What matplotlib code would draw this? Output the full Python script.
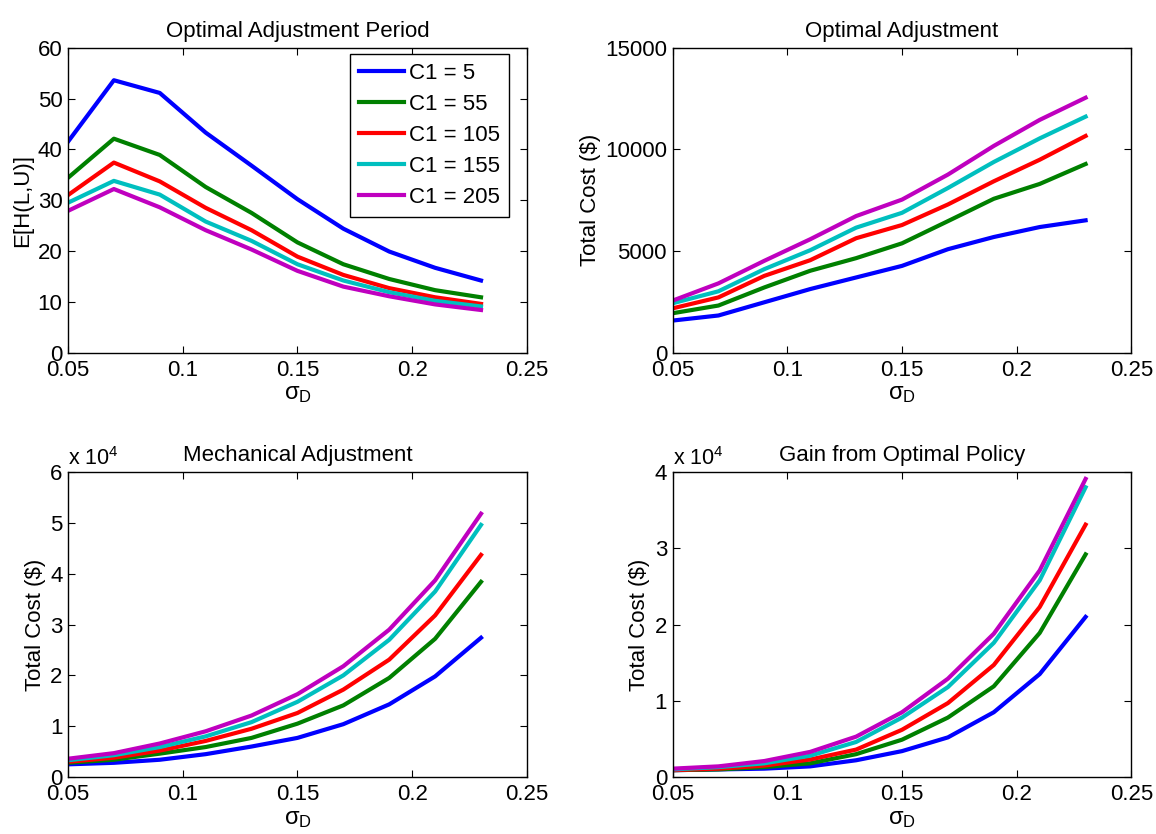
import numpy as np
import matplotlib.pyplot as plt

plt.rcParams['font.family'] = ['Liberation Sans', 'DejaVu Sans']
plt.rcParams['mathtext.fontset'] = 'custom'
plt.rcParams['mathtext.rm'] = 'Liberation Sans'
plt.rcParams['mathtext.it'] = 'Liberation Sans'

sigma_d = [0.05, 0.07, 0.09, 0.11, 0.13, 0.15, 0.17, 0.19, 0.21, 0.23]
c1_labels = ['C1 = 5', 'C1 = 55', 'C1 = 105', 'C1 = 155', 'C1 = 205']
colors = ['#0000ff', '#008000', '#ff0000', '#00bfbf', '#bf00bf']

# E[H(L,U)] - optimal adjustment period
period_c5 = [41.5, 53.6, 51.1, 43.3, 36.8, 30.2, 24.4, 19.9, 16.7, 14.2]
period_c55 = [34.4, 42.1, 38.9, 32.6, 27.5, 21.7, 17.4, 14.5, 12.3, 10.9]
period_c105 = [31.0, 37.4, 33.7, 28.5, 24.1, 18.9, 15.3, 12.7, 10.9, 9.6]
period_c155 = [29.5, 33.8, 31.1, 25.8, 22.0, 17.4, 14.2, 11.9, 10.2, 9.1]
period_c205 = [27.9, 32.2, 28.6, 24.1, 20.3, 16.1, 13.0, 11.1, 9.5, 8.4]

# total cost, optimal adjustment ($)
opt_c5 = [1580, 1830, 2480, 3130, 3700, 4270, 5090, 5690, 6180, 6510]
opt_c55 = [1940, 2320, 3210, 4030, 4650, 5380, 6470, 7570, 8300, 9280]
opt_c105 = [2180, 2720, 3780, 4550, 5630, 6280, 7290, 8430, 9490, 10660]
opt_c155 = [2430, 3020, 4110, 5040, 6150, 6880, 8100, 9380, 10540, 11610]
opt_c205 = [2560, 3410, 4520, 5580, 6720, 7530, 8760, 10170, 11450, 12540]

# total cost, mechanical adjustment (x 10^4 $)
mech_c5 = [0.25, 0.28, 0.34, 0.45, 0.60, 0.77, 1.04, 1.43, 1.98, 2.74]
mech_c55 = [0.28, 0.34, 0.46, 0.59, 0.77, 1.05, 1.41, 1.95, 2.72, 3.84]
mech_c105 = [0.30, 0.38, 0.52, 0.71, 0.95, 1.26, 1.72, 2.31, 3.18, 4.37]
mech_c155 = [0.33, 0.43, 0.59, 0.80, 1.08, 1.48, 2.00, 2.70, 3.65, 4.96]
mech_c205 = [0.36, 0.47, 0.66, 0.90, 1.21, 1.63, 2.18, 2.90, 3.87, 5.18]

# gain from optimal policy (x 10^4 $)
gain_c5 = [0.09, 0.10, 0.11, 0.14, 0.22, 0.34, 0.52, 0.85, 1.35, 2.10]
gain_c55 = [0.09, 0.10, 0.13, 0.18, 0.30, 0.49, 0.78, 1.19, 1.89, 2.92]
gain_c105 = [0.09, 0.11, 0.15, 0.23, 0.36, 0.62, 0.97, 1.47, 2.23, 3.31]
gain_c155 = [0.10, 0.13, 0.18, 0.28, 0.46, 0.78, 1.18, 1.76, 2.58, 3.80]
gain_c205 = [0.11, 0.14, 0.21, 0.33, 0.53, 0.85, 1.29, 1.88, 2.71, 3.91]

panels = [
    ('Optimal Adjustment Period', 'E[H(L,U)]', [period_c5, period_c55, period_c105, period_c155, period_c205],
     [0, 60], np.arange(0, 61, 10), False),
    ('Optimal Adjustment', 'Total Cost ($)', [opt_c5, opt_c55, opt_c105, opt_c155, opt_c205],
     [0, 15000], np.arange(0, 15001, 5000), False),
    ('Mechanical Adjustment', 'Total Cost ($)', [mech_c5, mech_c55, mech_c105, mech_c155, mech_c205],
     [0, 6], np.arange(0, 7, 1), True),
    ('Gain from Optimal Policy', 'Total Cost ($)', [gain_c5, gain_c55, gain_c105, gain_c155, gain_c205],
     [0, 4], np.arange(0, 5, 1), True),
]

# axes boxes (figure fractions), MATLAB-like 2x2 layout
rects = [
    [0.0588, 0.5771, 0.397, 0.3657],
    [0.5818, 0.5771, 0.397, 0.3657],
    [0.0588, 0.0683, 0.397, 0.3657],
    [0.5818, 0.0683, 0.397, 0.3657],
]

fs = 16
fig = plt.figure(figsize=(11.56, 8.34), dpi=100)

for i, (title, ylabel, series, ylim, yticks, scaled) in enumerate(panels):
    ax = fig.add_axes(rects[i])
    for vals, col, lab in zip(series, colors, c1_labels):
        ax.plot(sigma_d, vals, color=col, lw=3.0, label=lab)
    ax.set_xlim(0.05, 0.25)
    ax.set_ylim(ylim)
    ax.set_xticks([0.05, 0.1, 0.15, 0.2, 0.25])
    ax.set_xticklabels(['0.05', '0.1', '0.15', '0.2', '0.25'])
    ax.set_yticks(yticks)
    ax.set_yticklabels([str(int(t)) for t in yticks])
    ax.tick_params(direction='in', top=True, right=True, labelsize=fs, length=5, width=0.8)
    ax.tick_params(axis='x', pad=5)
    ax.tick_params(axis='y', pad=4)
    for sp in ax.spines.values():
        sp.set_linewidth(1.0)
    ax.set_title(title, fontsize=fs, pad=8)
    ax.set_ylabel(ylabel, fontsize=fs, labelpad=3)
    ax.set_xlabel(r'$\sigma_D$', fontsize=fs + 1, labelpad=2)
    if scaled:
        ax.text(0.0, 1.022, r'x 10$^4$', transform=ax.transAxes, fontsize=fs - 0.5,
                ha='left', va='baseline')
    if i == 0:
        leg = ax.legend(loc='upper right', bbox_to_anchor=(0.961, 0.979), fontsize=fs,
                        fancybox=False, edgecolor='black', framealpha=1, handlelength=2.0,
                        borderpad=0.4, labelspacing=0.45, handletextpad=0.25, borderaxespad=0)
        leg.get_frame().set_linewidth(1.0)

fig.savefig('out.png', dpi=100)
